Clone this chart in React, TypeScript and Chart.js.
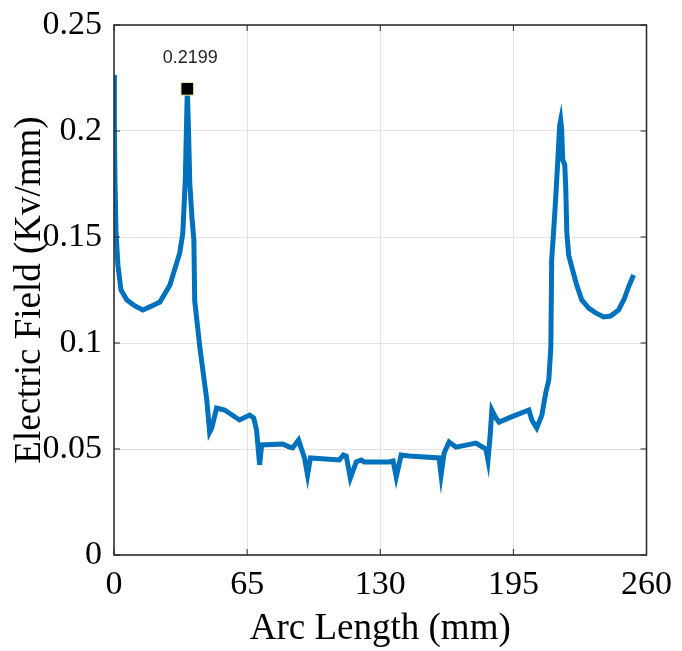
import React, { useEffect, useRef } from "react";
import { Chart, registerables } from "chart.js";

Chart.register(...registerables);

// Arc length (mm)
const arcLength = [
  0, 0.2, 0.5, 1.0, 1.9, 3.4, 6.3, 10.2, 14.1, 18.5, 22.4, 27.3, 32.1, 33.6, 34.8, 35.8,
  36.4, 37.0, 38.0, 39.0, 39.4, 41.9, 45.3, 46.7, 47.7, 50.1, 54.0, 61.3, 66.2, 68.2, 69.6,
  71.1, 72.1, 82.3, 85.7, 87.2, 90.1, 93.0, 94.5, 95.9, 110.0, 112.0, 113.4, 115.4, 118.3,
  120.7, 122.2, 134.4, 136.3, 137.8, 140.2, 144.1, 158.7, 159.7, 161.2, 163.6, 167.0, 176.7,
  181.6, 182.6, 183.6, 184.5, 186.5, 188.0, 195.2, 202.6, 204.0, 206.4, 208.9, 210.8, 212.3,
  213.3, 213.7, 214.7, 215.7, 216.7, 217.6, 218.1, 218.6, 219.1, 220.1, 220.6, 221.1, 222.0,
  223.5, 225.9, 228.4, 231.8, 235.2, 239.1, 242.5, 246.4, 249.3, 251.2, 253.7,
];

// Electric field (Kv/mm)
const electricField = [
  0.2264, 0.2019, 0.1755, 0.1519, 0.1368, 0.125, 0.1203, 0.1175, 0.1156, 0.1175, 0.1193,
  0.1274, 0.1425, 0.1519, 0.1769, 0.2199, 0.2, 0.1755, 0.16, 0.1486, 0.12, 0.0981, 0.0731,
  0.058, 0.0599, 0.0693, 0.0684, 0.0637, 0.066, 0.0646, 0.059, 0.0425, 0.0519, 0.0524,
  0.0509, 0.0505, 0.0542, 0.0458, 0.0377, 0.0458, 0.0448, 0.0472, 0.0467, 0.0363, 0.0439,
  0.0448, 0.0439, 0.0439, 0.0443, 0.0368, 0.0472, 0.0467, 0.0458, 0.0377, 0.0481, 0.0533,
  0.0509, 0.0528, 0.05, 0.0448, 0.0557, 0.0684, 0.0646, 0.0627, 0.0656, 0.0684, 0.0637,
  0.0599, 0.066, 0.0764, 0.0826, 0.0981, 0.1392, 0.1533, 0.1689, 0.1863, 0.2028, 0.2052,
  0.2005, 0.1863, 0.184, 0.1722, 0.1519, 0.1415, 0.1359, 0.1274, 0.1203, 0.1165, 0.1142,
  0.1123, 0.1127, 0.1156, 0.1212, 0.1264, 0.1321,
];

// Data tip
const peakX = [35.8];
const peakY = [0.2199];
const peakLabels = ["0.2199"];

const xTicks = [0, 65, 130, 195, 260];
const yTicks = [0, 0.05, 0.1, 0.15, 0.2, 0.25];

const xTitle = "Arc Length (mm)";
const yTitle = "Electric Field (Kv/mm)";

const SERIF = "'Liberation Serif', 'Times New Roman', serif";

const boxPlugin = {
  id: "matlabBox",
  afterDatasetsDraw(chart: any) {
    const { ctx, chartArea, scales } = chart;
    const { left, right, top, bottom } = chartArea;
    ctx.save();
    ctx.strokeStyle = "#262626";
    ctx.lineWidth = 1.5;
    ctx.beginPath();
    ctx.rect(left, top, right - left, bottom - top);
    ctx.stroke();
    // inward ticks
    ctx.lineWidth = 1;
    const tl = 6;
    ctx.beginPath();
    for (const v of xTicks) {
      const px = scales.x.getPixelForValue(v);
      ctx.moveTo(px, bottom);
      ctx.lineTo(px, bottom - tl);
      ctx.moveTo(px, top);
      ctx.lineTo(px, top + tl);
    }
    for (const v of yTicks) {
      const py = scales.y.getPixelForValue(v);
      ctx.moveTo(left, py);
      ctx.lineTo(left + tl, py);
      ctx.moveTo(right, py);
      ctx.lineTo(right - tl, py);
    }
    ctx.stroke();
    ctx.restore();
  },
  afterDraw(chart: any) {
    const { ctx } = chart;
    const meta = chart.getDatasetMeta(1);
    ctx.save();
    ctx.font = "18px 'Liberation Sans', Arial, sans-serif";
    ctx.fillStyle = "#262626";
    ctx.textAlign = "center";
    ctx.textBaseline = "middle";
    meta.data.forEach((pt: any, i: number) => {
      ctx.fillText(peakLabels[i], pt.x + 3, pt.y - 31);
    });
    ctx.restore();
  },
};

export default function App() {
  const canvasRef = useRef<HTMLCanvasElement | null>(null);

  useEffect(() => {
    document.body.style.margin = "0";
    const canvas = canvasRef.current;
    if (!canvas) return;
    const chart = new Chart(canvas, {
      type: "scatter",
      data: {
        datasets: [
          {
            data: arcLength.map((x, i) => ({ x, y: electricField[i] })),
            showLine: true,
            borderColor: "#0072BD",
            backgroundColor: "#0072BD",
            borderWidth: 5,
            pointRadius: 0,
            tension: 0,
            order: 2,
          },
          {
            data: peakX.map((x, i) => ({ x, y: peakY[i] })),
            showLine: false,
            pointStyle: "rect",
            pointRadius: 9,
            backgroundColor: "#000000",
            borderColor: "#f5f0b0",
            borderWidth: 1,
            order: 1,
            clip: false as any,
          },
        ],
      },
      options: {
        animation: false,
        responsive: false,
        maintainAspectRatio: false,
        layout: { padding: { top: 25, right: 35, left: 0, bottom: 0 } },
        plugins: {
          legend: { display: false },
          tooltip: { enabled: false },
        },
        scales: {
          x: {
            type: "linear",
            min: 0,
            max: 260,
            afterBuildTicks: (scale: any) => {
              scale.ticks = xTicks.map((v) => ({ value: v }));
            },
            afterFit: (scale: any) => {
              scale.height = 96;
            },
            ticks: {
              color: "#000",
              padding: 10,
              font: { family: SERIF, size: 34 },
              maxRotation: 0,
            },
            grid: { color: "#e3e3e3", lineWidth: 1, drawTicks: false },
            border: { display: false },
            title: {
              display: true,
              text: xTitle,
              color: "#000",
              font: { family: SERIF, size: 37, lineHeight: 1.2 },
              padding: { top: 0, bottom: 0 },
            },
          },
          y: {
            type: "linear",
            min: 0,
            max: 0.25,
            afterBuildTicks: (scale: any) => {
              scale.ticks = yTicks.map((v) => ({ value: v }));
            },
            afterFit: (scale: any) => {
              scale.width = 114;
              scale.paddingTop = 0;
              scale.paddingBottom = 0;
            },
            ticks: {
              color: "#000",
              padding: 12,
              font: { family: SERIF, size: 34 },
              callback: (v: any) => String(Number(v)),
            },
            grid: { color: "#e3e3e3", lineWidth: 1, drawTicks: false },
            border: { display: false },
            title: {
              display: true,
              text: yTitle,
              color: "#000",
              font: { family: SERIF, size: 37, lineHeight: 1.2 },
              padding: { top: 8, bottom: 0 },
            },
          },
        },
      },
      plugins: [boxPlugin],
    });
    return () => chart.destroy();
  }, []);

  return (
    <div style={{ width: 682, height: 651, background: "#fff" }}>
      <canvas ref={canvasRef} width={682} height={651} style={{ display: "block" }} />
    </div>
  );
}
